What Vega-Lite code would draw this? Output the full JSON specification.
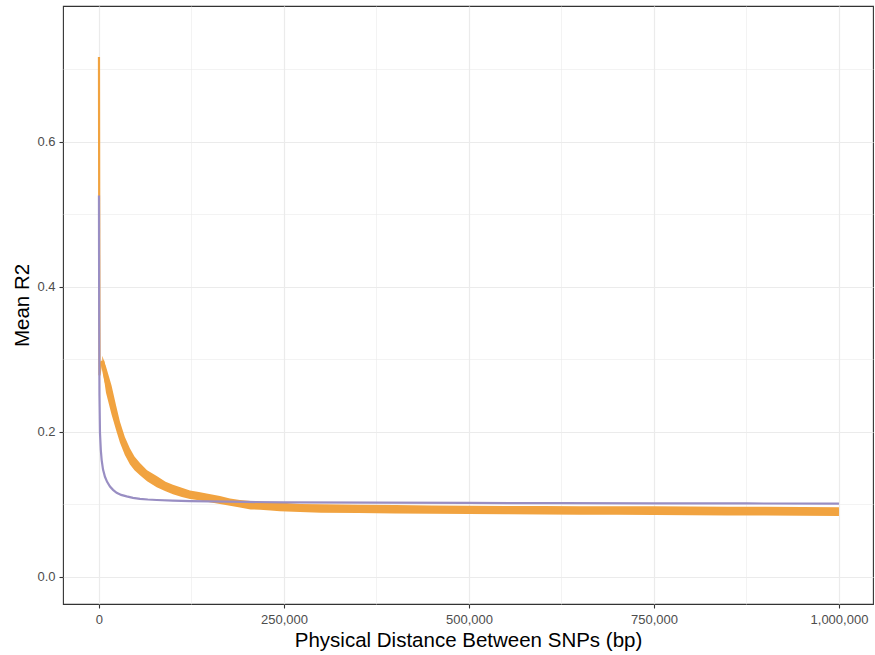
{
  "$schema": "https://vega.github.io/schema/vega-lite/v6.json",
  "autosize": {"type": "none"},
  "width": 810,
  "height": 598,
  "padding": {"left": 63, "top": 6, "right": 2, "bottom": 51},
  "background": "white",
  "config": {"view": {"stroke": "#333333", "strokeWidth": 1.1}, "font": "Liberation Sans"},
  "datasets": {
    "orangeSpike": [
      {"dist": 0, "r2": 0.717}, {"dist": 700, "r2": 0.278}, {"dist": 2500, "r2": 0.292}, {"dist": 4460, "r2": 0.298}
    ],
    "orange": [
      {"dist": 4460, "r2": 0.298},
      {"dist": 9500, "r2": 0.272}, {"dist": 17000, "r2": 0.244}, {"dist": 23000, "r2": 0.22}, {"dist": 28400, "r2": 0.199},
      {"dist": 35000, "r2": 0.18}, {"dist": 41900, "r2": 0.166}, {"dist": 48000, "r2": 0.156}, {"dist": 55400, "r2": 0.148},
      {"dist": 65000, "r2": 0.139}, {"dist": 78000, "r2": 0.13}, {"dist": 90000, "r2": 0.124}, {"dist": 100000, "r2": 0.12},
      {"dist": 112000, "r2": 0.116}, {"dist": 123000, "r2": 0.113}, {"dist": 135000, "r2": 0.111}, {"dist": 145500, "r2": 0.109},
      {"dist": 163500, "r2": 0.106}, {"dist": 177000, "r2": 0.103}, {"dist": 190500, "r2": 0.1007}, {"dist": 205000, "r2": 0.099},
      {"dist": 217600, "r2": 0.098}, {"dist": 232000, "r2": 0.097}, {"dist": 244600, "r2": 0.0966}, {"dist": 271600, "r2": 0.095},
      {"dist": 300000, "r2": 0.0945}, {"dist": 350000, "r2": 0.0938}, {"dist": 400000, "r2": 0.0932}, {"dist": 450000, "r2": 0.0928},
      {"dist": 500000, "r2": 0.0923}, {"dist": 550000, "r2": 0.092}, {"dist": 600000, "r2": 0.0918}, {"dist": 650000, "r2": 0.0916},
      {"dist": 700000, "r2": 0.0914}, {"dist": 750000, "r2": 0.0912}, {"dist": 800000, "r2": 0.091}, {"dist": 850000, "r2": 0.0907},
      {"dist": 900000, "r2": 0.0905}, {"dist": 950000, "r2": 0.0903}, {"dist": 1000000, "r2": 0.0899}
    ],
    "orangeBand": [
      {"dist": 4460, "lo": 0.29, "hi": 0.305}, {"dist": 9500, "lo": 0.254, "hi": 0.29}, {"dist": 17000, "lo": 0.224, "hi": 0.264},
      {"dist": 23000, "lo": 0.203, "hi": 0.237}, {"dist": 28400, "lo": 0.185, "hi": 0.214}, {"dist": 35000, "lo": 0.168, "hi": 0.193},
      {"dist": 41900, "lo": 0.155, "hi": 0.177}, {"dist": 48000, "lo": 0.147, "hi": 0.166}, {"dist": 55400, "lo": 0.14, "hi": 0.157},
      {"dist": 65000, "lo": 0.132, "hi": 0.147}, {"dist": 78000, "lo": 0.1235, "hi": 0.139}, {"dist": 90000, "lo": 0.118, "hi": 0.131},
      {"dist": 100000, "lo": 0.114, "hi": 0.127}, {"dist": 112000, "lo": 0.11, "hi": 0.123}, {"dist": 123000, "lo": 0.1075, "hi": 0.119},
      {"dist": 135000, "lo": 0.1055, "hi": 0.117}, {"dist": 145500, "lo": 0.1035, "hi": 0.115}, {"dist": 163500, "lo": 0.1005, "hi": 0.1115},
      {"dist": 177000, "lo": 0.098, "hi": 0.108}, {"dist": 190500, "lo": 0.0955, "hi": 0.1059}, {"dist": 205000, "lo": 0.093, "hi": 0.1045},
      {"dist": 217600, "lo": 0.0925, "hi": 0.1035}, {"dist": 232000, "lo": 0.0915, "hi": 0.1025}, {"dist": 244600, "lo": 0.0905, "hi": 0.1025},
      {"dist": 271600, "lo": 0.0895, "hi": 0.1005}, {"dist": 300000, "lo": 0.0885, "hi": 0.1002}, {"dist": 350000, "lo": 0.088, "hi": 0.0995},
      {"dist": 400000, "lo": 0.0875, "hi": 0.099}, {"dist": 450000, "lo": 0.087, "hi": 0.0985}, {"dist": 500000, "lo": 0.0865, "hi": 0.098},
      {"dist": 550000, "lo": 0.0862, "hi": 0.0978}, {"dist": 600000, "lo": 0.086, "hi": 0.0978}, {"dist": 650000, "lo": 0.0857, "hi": 0.0975},
      {"dist": 700000, "lo": 0.0855, "hi": 0.0975}, {"dist": 750000, "lo": 0.0852, "hi": 0.0972}, {"dist": 800000, "lo": 0.085, "hi": 0.097},
      {"dist": 850000, "lo": 0.0847, "hi": 0.0968}, {"dist": 900000, "lo": 0.0845, "hi": 0.0966}, {"dist": 950000, "lo": 0.0842, "hi": 0.0964},
      {"dist": 1000000, "lo": 0.0838, "hi": 0.096}
    ],
    "purple": [
      {"dist": 0, "r2": 0.526}, {"dist": 300, "r2": 0.35}, {"dist": 700, "r2": 0.25}, {"dist": 1351, "r2": 0.199},
      {"dist": 2500, "r2": 0.175}, {"dist": 3650, "r2": 0.161}, {"dist": 5500, "r2": 0.148}, {"dist": 8100, "r2": 0.138},
      {"dist": 11000, "r2": 0.131}, {"dist": 14900, "r2": 0.1246}, {"dist": 19000, "r2": 0.12}, {"dist": 23900, "r2": 0.116},
      {"dist": 30000, "r2": 0.113}, {"dist": 37400, "r2": 0.111}, {"dist": 46000, "r2": 0.109}, {"dist": 55400, "r2": 0.1076},
      {"dist": 66000, "r2": 0.1067}, {"dist": 78000, "r2": 0.106}, {"dist": 100000, "r2": 0.1052}, {"dist": 123000, "r2": 0.1045},
      {"dist": 150000, "r2": 0.104}, {"dist": 200000, "r2": 0.1033}, {"dist": 250000, "r2": 0.1028}, {"dist": 375000, "r2": 0.1023},
      {"dist": 500000, "r2": 0.1019}, {"dist": 625000, "r2": 0.1016}, {"dist": 750000, "r2": 0.1014}, {"dist": 875000, "r2": 0.1012},
      {"dist": 1000000, "r2": 0.101}
    ]
  },
  "layer": [
    {
      "data": {"name": "orangeBand"},
      "mark": {"type": "area", "color": "#F1A340", "opacity": 1},
      "encoding": {
        "x": {
          "field": "dist", "type": "quantitative",
          "scale": {"domain": [-48600, 1046000], "nice": false, "zero": false},
          "axis": {
            "values": [0, 125000, 250000, 375000, 500000, 625000, 750000, 875000, 1000000],
            "labelExpr": "datum.value % 250000 == 0 ? format(datum.value, ',') : ''",
            "title": "Physical Distance Between SNPs (bp)",
            "domain": false,
            "grid": true, "gridColor": "#EBEBEB",
            "gridWidth": {"condition": {"test": "datum.value % 250000 != 0", "value": 0.6}, "value": 1.2},
            "tickColor": "#333333", "tickSize": 4, "tickWidth": 1.1,
            "tickOpacity": {"condition": {"test": "datum.value % 250000 != 0", "value": 0}, "value": 1},
            "labelFont": "Liberation Sans", "labelFontSize": 13, "labelColor": "#4D4D4D", "labelPadding": 5,
            "labelFlush": false, "labelOverlap": false,
            "titleFont": "Liberation Sans", "titleFontSize": 20.5, "titleFontWeight": "normal", "titleColor": "#000000", "titlePadding": 4
          }
        },
        "y": {
          "field": "lo", "type": "quantitative",
          "scale": {"domain": [-0.0375, 0.7875], "nice": false, "zero": false},
          "axis": {
            "values": [0, 0.1, 0.2, 0.3, 0.4, 0.5, 0.6, 0.7],
            "labelExpr": "round(datum.value * 10) % 2 == 0 ? format(datum.value, '.1f') : ''",
            "title": "Mean R2",
            "domain": false,
            "grid": true, "gridColor": "#EBEBEB",
            "gridWidth": {"condition": {"test": "round(datum.value * 10) % 2 == 1", "value": 0.6}, "value": 1.2},
            "tickColor": "#333333", "tickSize": 4, "tickWidth": 1.1,
            "tickOpacity": {"condition": {"test": "round(datum.value * 10) % 2 == 1", "value": 0}, "value": 1},
            "labelFont": "Liberation Sans", "labelFontSize": 13, "labelColor": "#4D4D4D", "labelPadding": 4,
            "labelFlush": false, "labelOverlap": false,
            "titleFont": "Liberation Sans", "titleFontSize": 20.5, "titleFontWeight": "normal", "titleColor": "#000000", "titlePadding": 4
          }
        },
        "y2": {"field": "hi"}
      }
    },
    {
      "data": {"name": "orangeSpike"},
      "mark": {"type": "line", "color": "#F1A340", "strokeWidth": 2.2},
      "encoding": {
        "x": {"field": "dist", "type": "quantitative"},
        "y": {"field": "r2", "type": "quantitative"}
      }
    },
    {
      "data": {"name": "orange"},
      "mark": {"type": "line", "color": "#F1A340", "strokeWidth": 4},
      "encoding": {
        "x": {"field": "dist", "type": "quantitative"},
        "y": {"field": "r2", "type": "quantitative"}
      }
    },
    {
      "data": {"name": "purple"},
      "mark": {"type": "line", "color": "#998EC3", "strokeWidth": 2.2},
      "encoding": {
        "x": {"field": "dist", "type": "quantitative"},
        "y": {"field": "r2", "type": "quantitative"}
      }
    }
  ]
}
